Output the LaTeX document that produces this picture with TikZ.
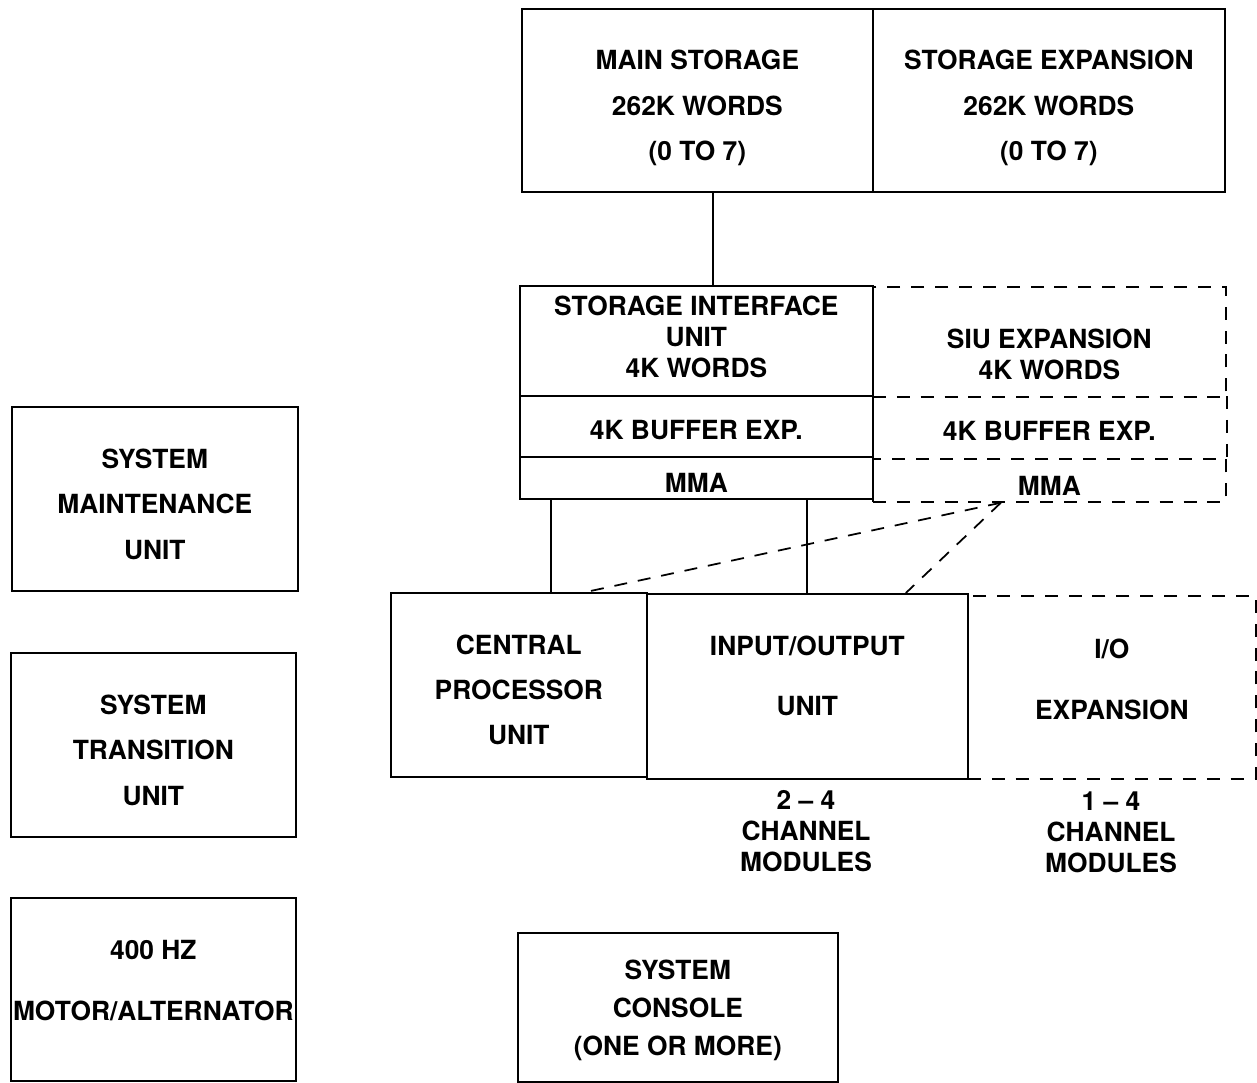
\documentclass[tikz,border=0pt]{standalone}
\usepackage{fontspec}
\setmainfont{TeX Gyre Heros}
\newcommand\tpad[1]{\rule{0pt}{#1}}
\begin{document}
\begin{tikzpicture}[x=0.02cm, y=-0.02cm, line width=1pt,
  blk/.style={draw, anchor=north west, inner sep=0pt, align=center, font=\fontsize{15}{#1}\selectfont\bfseries},
  blk/.default=26pt,
  dsh/.style={dash pattern=on 7.4pt off 6.2pt},
  dblk/.style={blk=#1, dsh},
  dblk/.default=17.6pt,
  up/.style={execute at end node={\rule[-#1]{0pt}{#1}}},
  note/.style={align=center, inner sep=0pt, font=\fontsize{15}{17.6pt}\selectfont\bfseries}]
\useasboundingbox (0,0) rectangle (1257,1082);
% expansion (dashed) first
\begin{scope}
\node[dblk, minimum width=7.06cm, minimum height=2.2cm] (siux) at (872,286) {\tpad{25pt}SIU EXPANSION\\4K WORDS};
\node[blk, draw=none, minimum width=7.06cm, minimum height=1.24cm] (bufx) at (872,396) {\tpad{14.4pt}4K BUFFER EXP.};
\node[dblk, minimum width=7.06cm, minimum height=0.86cm] (mmax) at (872,458) {\tpad{16.7pt}MMA};
\node[dblk=34.6pt, up=9.6pt, minimum width=5.76cm, minimum height=3.66cm] (iox) at (967,595) {I/O\\EXPANSION};
\draw[dsh] (bufx.north east) -- (bufx.south east);
\end{scope}
% installed units
\begin{scope}
\node[blk, minimum width=7.02cm, minimum height=3.66cm] (ms) at (521,8) {\tpad{20pt}MAIN STORAGE\\262K WORDS\\(0 TO 7)};
\node[blk, minimum width=7.04cm, minimum height=3.66cm] (se) at (872,8) {\tpad{20pt}STORAGE EXPANSION\\262K WORDS\\(0 TO 7)};
\node[blk=17.6pt, up=4.6pt, minimum width=7.06cm, minimum height=2.2cm] (siu) at (519,285) {STORAGE INTERFACE\\UNIT\\4K WORDS};
\node[blk, minimum width=7.06cm, minimum height=1.22cm] (buf) at (519,395) {\tpad{15.5pt}4K BUFFER EXP.};
\node[blk, minimum width=7.06cm, minimum height=0.84cm] (mma) at (519,456) {\tpad{16.7pt}MMA};
\node[blk=25.8pt, minimum width=5.12cm, minimum height=3.68cm] (cpu) at (390,592) {\tpad{16.7pt}CENTRAL\\PROCESSOR\\UNIT};
\node[blk=34.6pt, up=12pt, minimum width=6.42cm, minimum height=3.7cm] (iou) at (646,593) {INPUT/OUTPUT\\UNIT};
\node[blk, minimum width=5.72cm, minimum height=3.68cm] (smu) at (11,406) {\tpad{17.2pt}SYSTEM\\MAINTENANCE\\UNIT};
\node[blk, minimum width=5.7cm, minimum height=3.68cm] (stu) at (10,652) {\tpad{17.2pt}SYSTEM\\TRANSITION\\UNIT};
\node[blk=35pt, up=10.2pt, minimum width=5.7cm, minimum height=3.66cm] (mot) at (10,897) {400 HZ\\MOTOR/ALTERNATOR};
\node[blk=21.8pt, minimum width=6.4cm, minimum height=2.98cm] (con) at (517,932) {\tpad{14.4pt}SYSTEM\\CONSOLE\\(ONE OR MORE)};
\node[note] (ch1) at (806,831) {2 -- 4\\CHANNEL\\MODULES};
\node[note] (ch2) at (1111,832) {1 -- 4\\CHANNEL\\MODULES};
%\node[blk] (x) at (,) {};
\end{scope}
\coordinate (tap) at ([xshift=-0.97cm]mmax.south);
\begin{scope}
\draw ([xshift=0.31cm]ms.south) -- ([xshift=0.31cm]ms.south |- siu.north);
\draw ([xshift=0.64cm]cpu.north) -- ([xshift=0.64cm]cpu.north |- mma.south);
\draw (iou.north) -- (iou.north |- mma.south);
\draw[dsh] (tap) -- ([xshift=1.34cm]cpu.north);
\draw[dsh] (tap) -- ([xshift=1.97cm]iou.north);
\end{scope}
\end{tikzpicture}
\end{document}
